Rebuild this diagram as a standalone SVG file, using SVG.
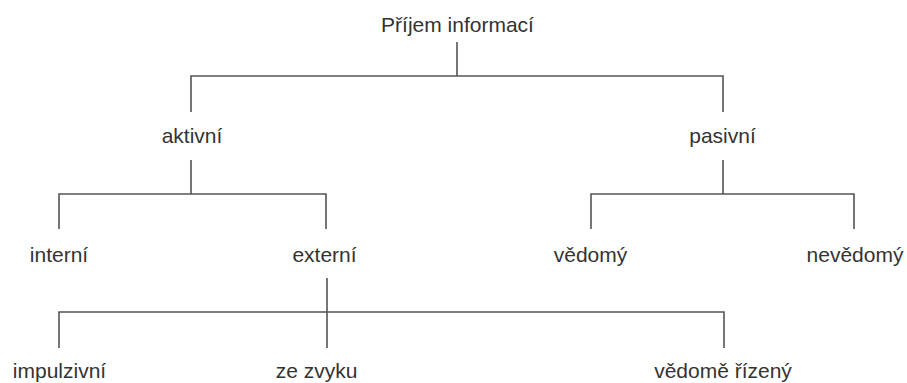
<svg xmlns="http://www.w3.org/2000/svg" width="907" height="383" viewBox="0 0 907 383">
<style>
text{font-family:"Liberation Sans",Arial,sans-serif;font-size:21px;fill:#333;text-anchor:middle}
.c{fill:none;stroke:#555;stroke-width:1.6}
</style>
<rect width="907" height="383" fill="#fff"/>
<g id="connectors">
<path class="c" d="M457,42V76M191,112V76H723V112"/>
<path class="c" d="M191,160V194M59,229V194H326V229"/>
<path class="c" d="M723,160V194M591,229V194H854V229"/>
<path class="c" d="M327,278V348M59,348V312H724V348"/>
</g>
<g id="n-root"><text x="457.5" y="32">Příjem informací</text></g>
<g id="n-aktivni"><text x="192" y="143">aktivní</text></g>
<g id="n-pasivni"><text x="722.5" y="143">pasivní</text></g>
<g id="n-interni"><text x="59" y="262">interní</text></g>
<g id="n-externi"><text x="324.5" y="262">externí</text></g>
<g id="n-vedomy"><text x="590.5" y="262">vědomý</text></g>
<g id="n-nevedomy"><text x="855" y="262">nevědomý</text></g>
<g id="n-impulzivni"><text x="59.5" y="378">impulzivní</text></g>
<g id="n-zezvyku"><text x="316.5" y="378">ze zvyku</text></g>
<g id="n-vedome-rizeny"><text x="723" y="378">vědomě řízený</text></g>
</svg>
